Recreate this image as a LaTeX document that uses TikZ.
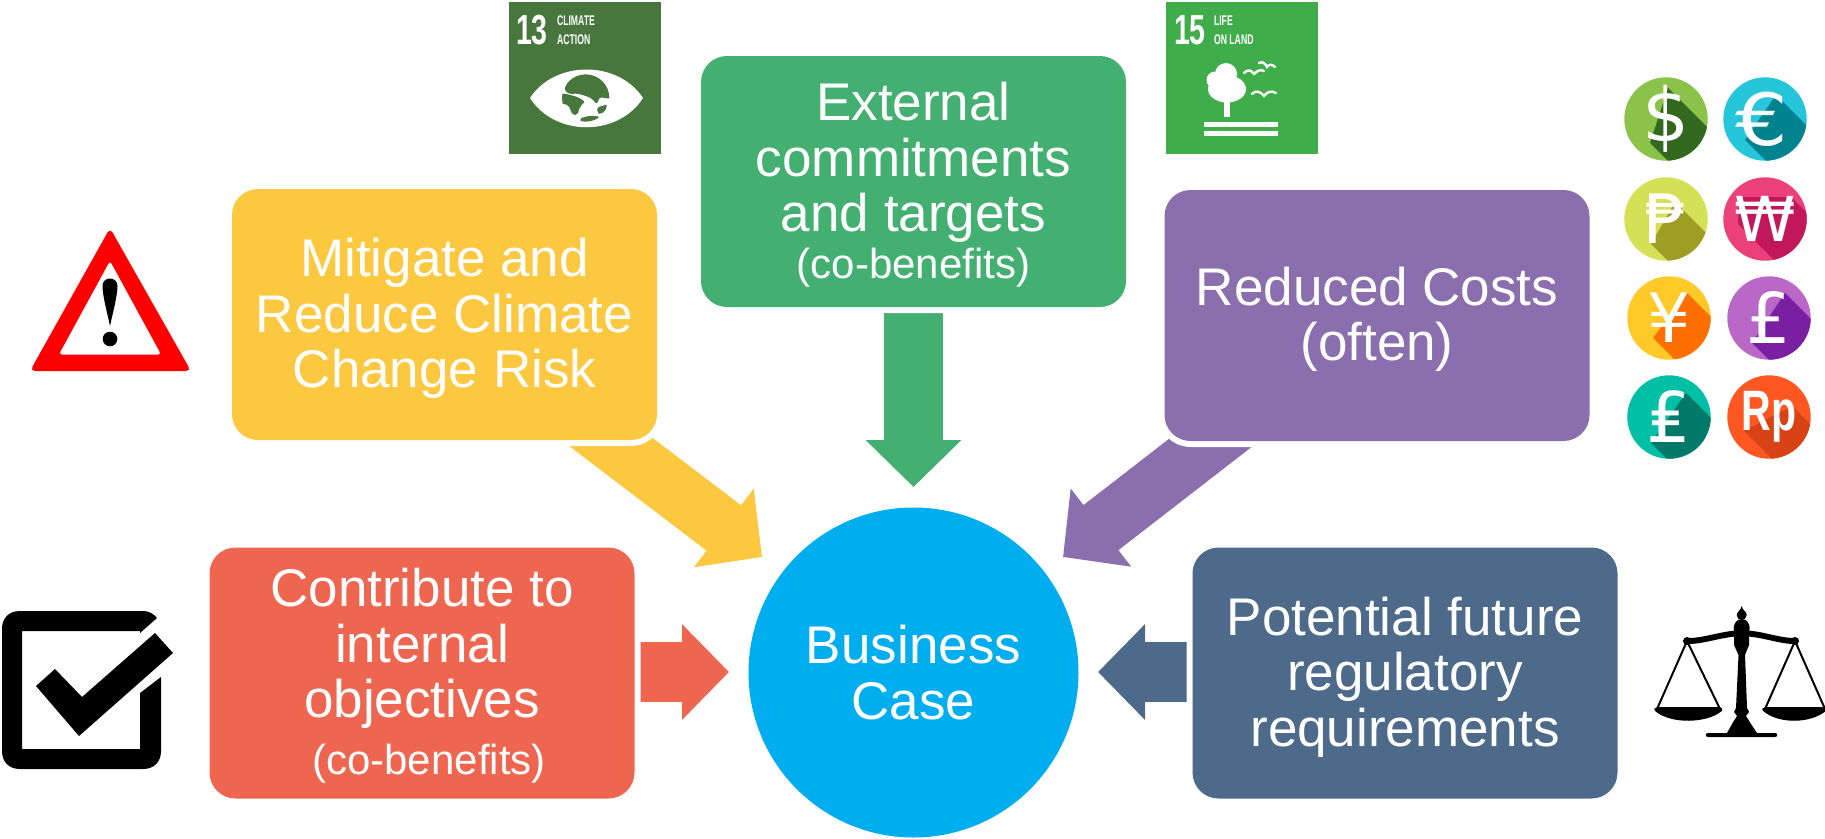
\documentclass[tikz,border=0pt]{standalone}
\usepackage{fontspec}
\setmainfont{Liberation Sans}
\newfontfamily\dvs{DejaVu Sans}
\newfontfamily\dvsb{DejaVu Sans Bold}
\usetikzlibrary{arrows.meta}
\definecolor{cyellow}{HTML}{FCC840}
\definecolor{cgreen}{HTML}{43B072}
\definecolor{cpurple}{HTML}{8B6EAD}
\definecolor{cred}{HTML}{EE6650}
\definecolor{cslate}{HTML}{4D6A8A}
\definecolor{ccircle}{HTML}{00AEEF}
\definecolor{sdga}{HTML}{48773E}
\definecolor{sdgb}{HTML}{3FAD4A}
\definecolor{signred}{HTML}{FF0000}
\definecolor{c1a}{HTML}{8BC34A}\definecolor{c1b}{HTML}{33691E}
\definecolor{c2a}{HTML}{26C6DA}\definecolor{c2b}{HTML}{00838F}
\definecolor{c3a}{HTML}{D4E157}\definecolor{c3b}{HTML}{9E9D24}
\definecolor{c4a}{HTML}{EC407A}\definecolor{c4b}{HTML}{C2185B}
\definecolor{c5a}{HTML}{FFCA28}\definecolor{c5b}{HTML}{FF6F00}
\definecolor{c6a}{HTML}{BA68C8}\definecolor{c6b}{HTML}{7B1FA2}
\definecolor{c7a}{HTML}{00BFA5}\definecolor{c7b}{HTML}{00796B}
\definecolor{c8a}{HTML}{FF5722}\definecolor{c8b}{HTML}{D84315}
\newcommand{\bigtxt}{\fontsize{53}{55.5}\selectfont}
\newcommand{\smalltxt}{\fontsize{42}{50}\selectfont}
\newcommand{\coinfont}[1]{\fontsize{#1}{#1}\selectfont}
\newcommand{\coinicon}[7]{%
  \begin{scope}[shift={(#2,#3)}]
    \begin{scope}
      \clip (0,0) circle[radius=41.7];
      \fill[#4] (-45,-45) rectangle (45,45);
      \fill[#5] #7;
    \end{scope}
    \node[coinglyph] (#1) at (0,0) {#6};
  \end{scope}}
\tikzset{
  x=1pt,y=-1pt,
  box/.style={rounded corners=26pt,minimum width=425pt,minimum height=251pt,inner sep=0pt,outer sep=0pt,
    text=white,align=center,font=\bigtxt,preaction={draw=white,line width=12pt}},
  bigarrow/.style={line width=59pt,-{Triangle[length=47pt,width=93pt]}},
  slantarrow/.style={line width=57pt,-{Triangle[length=48pt,width=96pt]}},
  coinglyph/.style={text=white,inner sep=0pt,outer sep=0pt},
  sdgnum/.style={text=white,inner sep=0pt,outer sep=0pt,anchor=west,font=\fontsize{42}{42}\selectfont\bfseries},
  sdgtxt/.style={text=white,inner sep=0pt,outer sep=0pt,anchor=west,font=\fontsize{14}{14}\selectfont\bfseries},
}
\begin{document}
\begin{tikzpicture}
\useasboundingbox (0,0) rectangle (1825,838);

% named end points of the block arrows
\coordinate (yt) at (557,401);
\coordinate (yh) at (762,557);
\coordinate (gt) at (913.5,280);
\coordinate (gh) at (913.5,487);
\coordinate (pt) at (1267,399);
\coordinate (ph) at (1063,557);
\coordinate (rt) at (600,672);
\coordinate (rh) at (729,672);
\coordinate (st) at (1230,672);
\coordinate (sh) at (1098,672);

\draw[slantarrow,draw=cyellow] (yt) -- (yh);
\draw[bigarrow,draw=cgreen] (gt) -- (gh);
\draw[slantarrow,draw=cpurple] (pt) -- (ph);
\draw[bigarrow,line width=60pt,draw=cred] (rt) -- (rh);
\draw[bigarrow,line width=60pt,draw=cslate] (st) -- (sh);

\node[box,fill=cyellow] (mitigate) at (444.5,314.5) {\rule{0pt}{46pt}Mitigate and\\Reduce Climate\\Change Risk};
\node[box,fill=cgreen] (external) at (913.5,181.5) {\rule{0pt}{45pt}External\\commitments\\and targets\\[-9pt]{\smalltxt (co-benefits)}};
\node[box,fill=cpurple] (costs) at (1377,315.5) {\rule{0pt}{46pt}Reduced Costs\\(often)};
\node[box,fill=cred] (internal) at (422,673) {\rule{0pt}{44pt}Contribute to\\internal\\objectives\\[1pt]{\smalltxt\hspace*{14pt}(co-benefits)}};
\node[box,fill=cslate] (regulatory) at (1405,673) {\rule{0pt}{46pt}Potential future\\regulatory\\requirements};
\node[circle,fill=ccircle,minimum size=330pt,inner sep=0pt,outer sep=0pt,text=white,align=center,font=\bigtxt] (business) at (913.5,672.5) {Business\\Case};

% SDG 13
\fill[sdga] (509,2) rectangle (661,154);
\node[sdgnum] (n13) at (516,30) {\scalebox{.68}[1]{13}};
\node[sdgtxt] (t13a) at (557,21) {\scalebox{.62}[1]{CLIMATE}};
\node[sdgtxt] (t13b) at (557,39.5) {\scalebox{.62}[1]{ACTION}};
\fill[white] (530,98) .. controls (555,60) and (618,60) .. (643,98) .. controls (618,137) and (555,137) .. (530,98) -- cycle;
\begin{scope}[shift={(550,65)},x=.3333pt,y=-.3333pt]
  \clip (107,99) circle[radius=71];
  \fill[sdga,rounded corners=2pt] (60,45) -- (90,20) -- (150,20) -- (190,60) -- (190,100) -- (165,100) -- (150,95) -- (140,118) -- (125,100) -- (105,92) -- (80,85) -- (60,88) -- (42,75) -- (48,60) -- cycle;
  \fill[sdga,rounded corners=2pt] (30,85) -- (55,88) -- (85,97) -- (105,110) -- (90,125) -- (82,150) -- (68,150) -- (55,120) -- (30,115) -- cycle;
  \fill[sdga,rounded corners=2pt] (140,128) -- (172,118) -- (165,140) -- (145,148) -- cycle;
  \fill[sdga,rounded corners=2pt] (90,160) -- (120,152) -- (150,155) -- (120,175) -- (95,175) -- cycle;
\end{scope}

% SDG 15
\fill[sdgb] (1166,2) rectangle (1318,154);
\node[sdgnum] (n15) at (1174,30) {\scalebox{.68}[1]{15}};
\node[sdgtxt] (t15a) at (1214,21) {\scalebox{.62}[1]{LIFE}};
\node[sdgtxt] (t15b) at (1214,39.5) {\scalebox{.62}[1]{ON LAND}};
\fill[white] (1226,74) circle[radius=11] (1215,80) circle[radius=8.5];
\fill[white] (1227,89) ellipse[x radius=19,y radius=13.5];
\fill[white] (1224,102) rectangle (1229.5,117);
\fill[white] (1204,122) rectangle (1278,127);
\fill[white] (1204,131) rectangle (1278,136);
\begin{scope}[line width=2.4pt,white,line cap=round]
  \draw (1244,73) .. controls (1248,69) and (1251,70) .. (1254,74) .. controls (1257,71) and (1260,69) .. (1264,71);
  \draw (1259,63) .. controls (1262,61) and (1265,63) .. (1267,67) .. controls (1269,64) and (1272,64) .. (1275,67);
  \draw (1252,94) .. controls (1256,90) and (1260,91) .. (1264,96) .. controls (1267,92) and (1271,90) .. (1276,93);
\end{scope}

% coins
\coinicon{dollar}{1666}{119}{c1a}{c1b}{\dvs\coinfont{74}\$}{(2,-31)--(62,29)--(44,84)--(-16,24)--cycle}
\coinicon{euro}{1765}{119}{c2a}{c2b}{\dvs\coinfont{72}\hspace*{-6pt}\scalebox{1.15}[1]{€}}{(11,-24)--(71,36)--(40,81)--(-20,21)--cycle}
\coinicon{peso}{1666}{219}{c3a}{c3b}{\dvs\coinfont{68}₱}{(9,-17)--(69,43)--(45,85)--(-15,25)--cycle}
\coinicon{won}{1765}{219}{c4a}{c4b}{\dvs\coinfont{62}₩}{(-27,5)--(-26,-22)--(26,-22)--(86,38)--(33,65)--cycle}
\coinicon{yen}{1669}{318}{c5a}{c5b}{\dvs\coinfont{68}¥}{(18,-25)--(78,35)--(44,80)--(-16,20)--cycle}
\coinicon{pound}{1769}{318}{c6a}{c6b}{\dvs\coinfont{70}£}{(16,-25)--(76,35)--(43,85)--(-17,25)--cycle}
\coinicon{lira}{1669}{417}{c7a}{c7b}{\dvs\coinfont{70}₤}{(17,-24)--(77,36)--(42,86)--(-18,26)--cycle}
\coinicon{rupiah}{1769}{417}{c8a}{c8b}{\coinfont{57}\bfseries\scalebox{.72}[1]{Rp}}{(23,-11)--(83,49)--(35,74)--(-25,14)--cycle}

% warning sign
\fill[signred,rounded corners=5pt] (110,228) -- (191,371) -- (30,371) -- cycle;
\fill[white,rounded corners=3pt] (110,261) -- (161,354.5) -- (59,354.5) -- cycle;
\fill[black] (102.5,286) .. controls (102.5,276) and (117.5,276) .. (117.5,286) .. controls (117.5,296) and (112,316) .. (110,326) .. controls (108,316) and (102.5,296) .. (102.5,286) -- cycle;
\fill[black] (110,339) circle[radius=7.3];

% check box
\fill[black] (157,618) .. controls (153,613) and (148,611) .. (143,611) -- (20,611) .. controls (8,611) and (2,619) .. (2,629) -- (2,751) .. controls (2,762) and (9,769) .. (20,769) -- (143,769) .. controls (154,769) and (161,762) .. (161,751) -- (161,677) -- (140,693) -- (140,749) -- (22,749) -- (22,631) -- (140,631) -- (140,633) -- cycle;
\fill[black] (36,686) -- (55,669) -- (82,697) -- (155,633) -- (173,653) -- (79,736) -- cycle;

% scales
\fill[black] (1741.7,606) .. controls (1742,610) and (1747,612) .. (1746.7,615) .. controls (1746.7,618) and (1744,620) .. (1741.7,620) .. controls (1739,620) and (1736.7,618) .. (1736.7,615) .. controls (1736.7,612) and (1741,610) .. (1741.7,606) -- cycle;
\fill[black] (1741.7,628) ellipse[x radius=8,y radius=9];
\fill[black] (1734,632) -- (1749,632) -- (1749,645) -- (1745,655) -- (1747,708) -- (1749,712) -- (1746,716) -- (1751,724) -- (1757,733) -- (1775,733) .. controls (1778,733) and (1778,737) .. (1775,737) -- (1708,737) .. controls (1705,737) and (1705,733) .. (1708,733) -- (1727,733) -- (1732,724) -- (1737,716) -- (1734,712) -- (1736,708) -- (1738.5,655) -- (1734,645) -- cycle;
\fill[black] (1688,638) .. controls (1705,638) and (1720,631) .. (1742,630) .. controls (1764,631) and (1778,638) .. (1795,638) -- (1795,644) .. controls (1778,644) and (1764,637) .. (1742,636) .. controls (1720,637) and (1705,644) .. (1688,644) -- cycle;
\fill[black] (1687,641) circle[radius=4] (1795,641) circle[radius=4];
\draw[black,line width=2pt] (1657,709) -- (1687,641) -- (1720,709);
\draw[black,line width=2pt] (1765,709) -- (1795,641) -- (1825,709);
\fill[black,rounded corners=1.5pt] (1654,710) -- (1656,707) -- (1721,707) -- (1723,710) .. controls (1706,724) and (1670,724) .. (1654,710) -- cycle;
\fill[black,rounded corners=1.5pt] (1762,710) -- (1764,707) -- (1825,707) -- (1827,710) .. controls (1810,724) and (1778,724) .. (1762,710) -- cycle;
\end{tikzpicture}
\end{document}
